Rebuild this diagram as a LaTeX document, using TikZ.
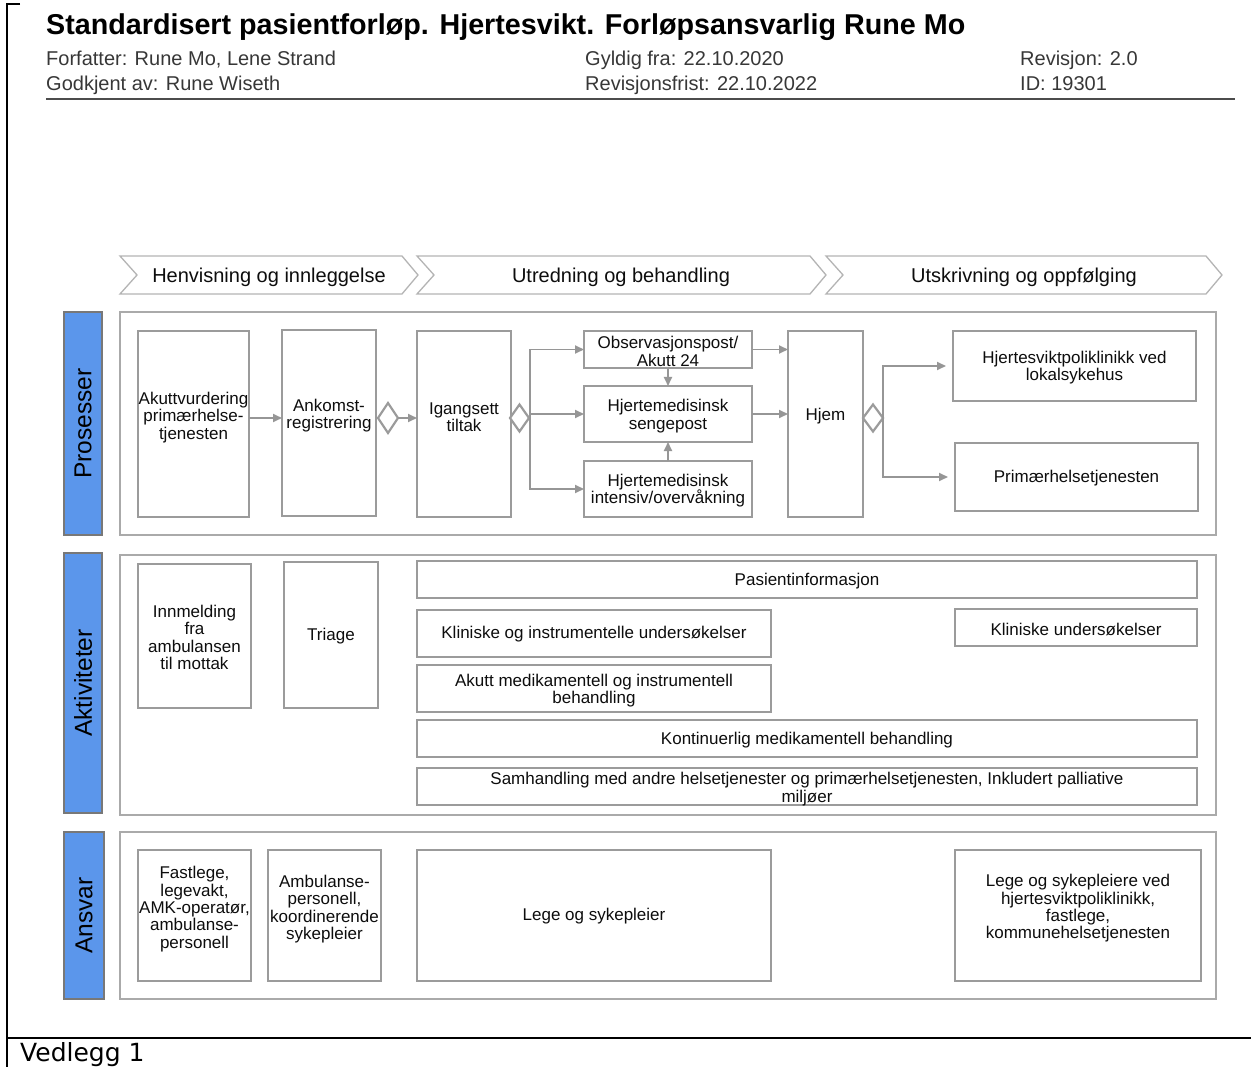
\documentclass[tikz,border=0pt]{standalone}
\usepackage{fontspec}
\setmainfont{Liberation Sans}
\newfontfamily\vfont{DejaVu Sans}
\usetikzlibrary{arrows.meta,shapes.geometric}
\definecolor{lblblue}{RGB}{91,150,235}
\definecolor{lblborder}{RGB}{120,120,120}
\definecolor{boxgray}{RGB}{155,155,155}
\definecolor{sectgray}{RGB}{170,170,170}
\definecolor{arrgray}{RGB}{150,150,150}
\definecolor{chevgray}{RGB}{180,180,180}
\definecolor{hdrtext}{RGB}{55,55,55}
\newcommand\fsz[2]{\fontsize{#1}{#2}\selectfont}
\newcommand\bx[5]{\node[box,minimum width={(#4)-(#2)},minimum height={(#5)-(#3)}] (#1) at ({((#2)+(#4))/2},{((#3)+(#5))/2}) {};}
\newcommand\sect[5]{\node[sectbox,minimum width={(#4)-(#2)},minimum height={(#5)-(#3)}] (#1) at ({((#2)+(#4))/2},{((#3)+(#5))/2}) {};}
\newcommand\lbar[5]{\node[lblbox,minimum width={(#4)-(#2)},minimum height={(#5)-(#3)}] (#1) at ({((#2)+(#4))/2},{((#3)+(#5))/2}) {};}
\begin{document}
\begin{tikzpicture}[x=1pt,y=-1pt,
  box/.style={draw=boxgray,line width=1.9pt,fill=white,inner sep=0pt,outer sep=0pt},
  sectbox/.style={draw=sectgray,line width=2pt,fill=white,inner sep=0pt,outer sep=0pt},
  lblbox/.style={draw=lblborder,line width=2pt,fill=lblblue,inner sep=0pt,outer sep=0pt},
  txt/.style={inner sep=0pt,align=center,font=\fsz{17}{17.3},text=black!95,yshift=-1.5pt},
  lbltxt/.style={inner sep=0pt,rotate=90,font=\fsz{24.5}{26},text=black},
  hdr/.style={anchor=base west,inner sep=0pt,font=\fsz{20}{22},text=hdrtext},
  chev/.style={draw=chevgray,line width=1.3pt,fill=white},
  chevtxt/.style={inner sep=0pt,font=\fsz{20}{22},text=black!95,yshift=-2pt},
  dia/.style={diamond,draw=boxgray,line width=2.2pt,fill=white,inner sep=0pt,outer sep=0pt},
  arr/.style={draw=arrgray,line width=1.8pt,-{Triangle[length=9pt,width=8pt]}},
  conn/.style={draw=arrgray,line width=1.8pt}
]
\useasboundingbox (0,0) rectangle (1251,1067);

% page frame
\draw[line width=2.2pt] (20,4) -- (7,4) -- (7,1067);
\draw[line width=2.5pt] (7,1038) -- (1251,1038);
\node[anchor=base west,inner sep=0pt,font=\vfont\fsz{25}{27}] (vedlegg) at (20,1061) {Vedlegg 1};

% header
\node[anchor=base west,inner sep=0pt,font=\bfseries\fsz{28.7}{30}] (title) at (46,34.5) {Standardisert pasientforløp. Hjertesvikt. Forløpsansvarlig Rune Mo};
\node[hdr] (forf) at (46,65.5) {Forfatter: Rune Mo, Lene Strand};
\node[hdr] (godk) at (46,91) {Godkjent av: Rune Wiseth};
\node[hdr] (gyld) at (585,65.5) {Gyldig fra: 22.10.2020};
\node[hdr] (revf) at (585,91) {Revisjonsfrist: 22.10.2022};
\node[hdr] (rev) at (1020,65.5) {Revisjon: 2.0};
\node[hdr] (id) at (1020,91) {ID: 19301};
\draw[line width=1.8pt,color=black!70] (46,99) -- (1235,99);

% chevrons
\draw[chev] (120,256) -- (402,256) -- (418,275) -- (402,294) -- (120,294) -- (137,275) -- cycle;
\draw[chev] (417,256) -- (810,256) -- (826,275) -- (810,294) -- (417,294) -- (434,275) -- cycle;
\draw[chev] (826,256) -- (1206,256) -- (1222,275) -- (1206,294) -- (826,294) -- (843,275) -- cycle;
\node[chevtxt] (ph1) at (269,275) {Henvisning og innleggelse};
\node[chevtxt] (ph2) at (621,275) {Utredning og behandling};
\node[chevtxt] (ph3) at (1024,275) {Utskrivning og oppfølging};

% sections
\sect{sp}{120}{312}{1216}{535}
\sect{sa}{120}{555}{1216}{815}
\sect{sr}{120}{832}{1216}{999}
\lbar{lp}{64}{312}{102}{535}
\lbar{la}{64}{553}{102}{813}
\lbar{lr}{64}{832}{104}{999}
\node[lbltxt] (lpt) at (lp) {Prosesser};
\node[lbltxt] (lat) at (la) {Aktiviteter};
\node[lbltxt] (lrt) at (lr) {Ansvar};

% Prosesser
\bx{akut}{138}{331}{249}{517}
\node[txt] (akutt) at (193.5,416) {Akuttvurdering\\primærhelse-\\tjenesten};
\bx{ank}{282}{330}{376}{516}
\node[txt] (ankt) at (329,414) {Ankomst-\\registrering};
\node[dia,minimum width=20pt,minimum height=30pt] (d1) at (388,418) {};
\bx{ig}{417}{331}{511}{517}
\node[txt] (igt) at (464,416) {Igangsett\\tiltak};
\node[dia,minimum width=19pt,minimum height=27pt] (d2) at (519.5,418) {};
\bx{obs}{584}{331}{752}{368}
\node[txt] (obst) at (668,350) {Observasjonspost/\\Akutt 24};
\bx{seng}{584}{386}{752}{442}
\node[txt] (sengt) at (668,414.5) {Hjertemedisinsk\\sengepost};
\bx{int}{584}{461}{752}{517}
\node[txt] (intt) at (668,489) {Hjertemedisinsk\\intensiv/overvåkning};
\bx{hjem}{788}{331}{863}{517}
\node[txt] (hjemt) at (825.5,415) {Hjem};
\node[dia,minimum width=20pt,minimum height=27pt] (d3) at (873,418) {};
\bx{poli}{953}{331}{1196}{401}
\node[txt] (polit) at (1074.5,366) {Hjertesviktpoliklinikk ved\\lokalsykehus};
\bx{prim}{955}{443}{1198}{511}
\node[txt] (primt) at (1076.5,477) {Primærhelsetjenesten};

\draw[arr] (akut.east |- d1) -- (ank.west |- d1);
\draw[arr] (d1.east) -- (ig.west |- d1);
\coordinate (b1) at (530,418);
\draw[conn] (d2.east) -- (b1);
\draw[arr] (b1) |- (obs.west);
\draw[arr] (b1) |- (seng.west);
\draw[arr] (b1) |- (int.west);
\draw[arr] (obs.south) -- (seng.north);
\draw[arr] (int.north) -- (seng.south);
\draw[arr] (obs.east) -- (obs.east -| hjem.west);
\draw[arr] (seng.east) -- (seng.east -| hjem.west);
\coordinate (b2) at (883,418);
\draw[conn] (d3.east) -- (b2);
\draw[arr,shorten >=7pt] (b2) |- (poli.west);
\draw[arr,shorten >=7pt] (b2) |- (prim.west);

% Aktiviteter
\bx{inn}{138}{564}{251}{708}
\node[txt] (innt) at (194.5,636) {Innmelding\\fra\\ambulansen\\til mottak};
\bx{tri}{284}{562}{378}{708}
\node[txt] (trit) at (331,635) {Triage};
\bx{pas}{417}{561}{1197}{598}
\node[txt] (past) at (807,579.5) {Pasientinformasjon};
\bx{kli}{417}{610}{771}{657}
\node[txt] (klit) at (594,633) {Kliniske og instrumentelle undersøkelser};
\bx{kliu}{955}{609}{1197}{646}
\node[txt] (kliut) at (1076,627.5) {Kliniske undersøkelser};
\bx{aku}{417}{665}{771}{712}
\node[txt] (akut2) at (594,689) {Akutt medikamentell og instrumentell\\behandling};
\bx{kont}{417}{720}{1197}{757}
\node[txt] (kontt) at (807,739) {Kontinuerlig medikamentell behandling};
\bx{sam}{417}{768}{1197}{805}
\node[txt] (samt) at (807,787.5) {Samhandling med andre helsetjenester og primærhelsetjenesten, Inkludert palliative\\miljøer};

% Ansvar
\bx{fast}{138}{850}{251}{981}
\node[txt] (fastt) at (194.5,907.5) {Fastlege,\\legevakt,\\AMK-operatør,\\ambulanse-\\personell};
\bx{amb}{268}{850}{381}{981}
\node[txt] (ambt) at (324.5,907.5) {Ambulanse-\\personell,\\koordinerende\\sykepleier};
\bx{lege}{417}{850}{771}{981}
\node[txt] (leget) at (594,915) {Lege og sykepleier};
\bx{leges}{955}{850}{1201}{981}
\node[txt] (legest) at (1078,907) {Lege og sykepleiere ved\\hjertesviktpoliklinikk,\\fastlege,\\kommunehelsetjenesten};
\end{tikzpicture}
\end{document}
